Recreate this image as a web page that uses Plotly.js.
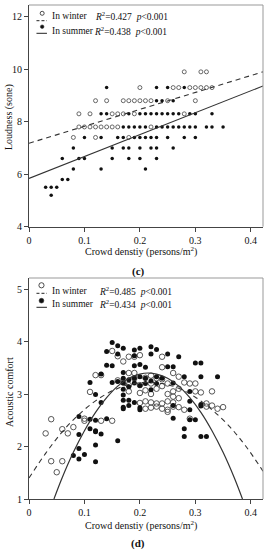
<!DOCTYPE html>
<html><head><meta charset="utf-8">
<script src="https://cdn.plot.ly/plotly-3.0.1.min.js"></script>
<style>html,body{margin:0;padding:0;background:#fff}#chart{width:267px;height:550px}</style>
</head><body><div id="chart"></div>
<script>
// ---------- Panel (c): Loudness vs crowd density ----------
const loudWinterX = [0.28,0.31,0.32,
  0.20,0.26,0.27,0.29,0.30,0.31,0.32,0.33,
  0.12,0.14,0.17,0.18,0.19,0.20,0.21,0.22,0.25,0.30,
  0.09,0.11,0.15,0.16,0.17,0.19,0.28,
  0.09,0.10,0.11,0.12,0.13,0.14,0.15,0.16,0.22,
  0.08,0.12,0.18];
const loudWinterY = [9.9,9.9,9.9,
  9.3,9.3,9.3,9.3,9.3,9.3,9.3,9.3,
  8.8,8.8,8.8,8.8,8.8,8.8,8.8,8.8,8.8,8.8,
  8.3,8.3,8.3,8.3,8.3,8.3,8.3,
  7.8,7.8,7.8,7.8,7.8,7.8,7.8,7.8,7.8,
  7.4,7.4,7.4];
const loudSummerX = [0.14,0.23,0.25,0.28,
  0.23,0.24,0.26,
  0.13,0.14,0.18,0.20,0.21,0.22,0.23,0.24,0.25,0.26,0.27,0.29,0.30,0.33,
  0.17,0.18,0.19,0.20,0.21,0.23,0.24,0.25,0.26,0.27,0.28,0.29,0.30,0.32,0.33,0.35,
  0.10,0.13,0.16,0.17,0.19,0.20,0.21,0.22,0.23,0.25,0.28,0.30,
  0.08,0.15,0.17,0.18,0.20,0.22,0.23,0.26,
  0.06,0.09,0.10,0.15,0.18,0.20,0.23,
  0.08,0.13,0.21,
  0.06,0.07,
  0.03,0.04,0.05,
  0.04];
const loudSummerY = [9.3,9.3,9.3,9.3,
  8.8,8.8,8.8,
  8.3,8.3,8.3,8.3,8.3,8.3,8.3,8.3,8.3,8.3,8.3,8.3,8.3,8.3,
  7.8,7.8,7.8,7.8,7.8,7.8,7.8,7.8,7.8,7.8,7.8,7.8,7.8,7.8,7.8,7.8,
  7.4,7.4,7.4,7.4,7.4,7.4,7.4,7.4,7.4,7.4,7.4,7.4,
  7.0,7.0,7.0,7.0,7.0,7.0,7.0,7.0,
  6.6,6.6,6.6,6.6,6.6,6.6,6.6,
  6.2,6.2,6.2,
  5.8,5.8,
  5.5,5.5,5.5,
  5.2];
// fitted lines (end points)
const loudFitX = [0, 0.422];
const loudFitWinterY = [7.18, 9.9];
const loudFitSummerY = [5.84, 9.36];

// ---------- Panel (d): Acoustic comfort vs crowd density ----------
const comfWinterX = [0.03,0.04,0.06,0.07,0.08,0.10,0.10,0.13,0.15,0.04,0.06,0.05,
  0.15,0.16,0.18,0.19,0.17,0.18,0.12,0.13,0.16,0.19,0.21,0.18,0.20,0.18,0.11,0.21,0.21,0.20,
  0.20,0.24,0.24,0.27,0.29,0.30,0.31,0.33,0.32,0.33,0.35,0.26,0.26,0.22,0.23,0.24,0.25,0.26,0.27,
  0.21,0.22,0.23,0.24,0.25,0.25,0.26,0.27,0.28,0.29,0.32,0.34,
  0.22,0.23,0.24,0.22,0.25,0.23,0.26,0.28,0.27,0.17,0.19,0.20,0.24,0.25,0.22,0.30];
const comfWinterY = [2.25,2.52,2.33,2.25,2.37,2.53,2.49,2.49,2.49,1.72,1.72,1.51,
  3.82,3.72,3.71,3.71,3.62,3.40,3.36,3.36,3.26,3.30,3.31,3.17,3.17,3.05,3.04,3.07,2.86,2.83,
  3.74,3.71,3.51,3.33,3.20,3.20,3.03,3.05,2.82,2.78,2.75,3.05,2.95,2.84,2.82,2.82,2.86,2.84,2.92,
  2.72,2.74,2.76,2.72,2.70,2.66,2.76,2.75,2.70,2.53,2.76,2.72,
  3.20,3.10,3.15,3.00,3.00,3.30,3.40,3.22,3.10,3.22,3.40,3.02,3.28,3.20,3.35,3.05];
const comfSummerX = [0.09,0.11,0.12,0.14,0.11,0.12,0.12,0.13,0.09,0.16,0.12,0.09,0.08,0.10,0.09,0.12,
  0.15,0.16,0.17,0.14,0.16,0.19,0.20,0.19,0.14,0.15,0.19,0.20,0.13,0.11,0.15,0.16,0.17,0.17,0.17,
  0.18,0.19,0.20,0.19,0.18,0.17,0.12,0.13,0.17,0.17,0.18,0.19,0.17,0.20,
  0.22,0.23,0.22,0.25,0.27,0.30,0.21,0.25,0.26,0.23,0.24,0.28,0.31,0.34,0.31,0.26,0.22,0.29,0.29,
  0.31,0.21,0.22,0.21,0.23,0.20,0.29,0.26,0.29,0.30,0.28,0.28,0.31,0.32,0.31,0.17,0.18,0.20,0.26];
const comfSummerY = [2.57,2.52,2.50,2.53,2.34,2.30,2.28,2.24,2.23,2.11,2.03,1.96,1.83,1.85,1.76,1.71,
  3.98,3.92,3.87,3.81,3.76,3.84,3.87,3.73,3.55,3.54,3.54,3.56,3.38,3.22,3.22,3.24,3.41,3.30,3.21,
  3.27,3.30,3.33,3.21,3.14,3.09,2.99,2.84,2.98,2.88,2.88,2.84,2.75,3.16,
  3.90,3.85,3.76,3.76,3.71,3.59,3.51,3.52,3.52,3.33,3.30,3.33,3.33,3.33,3.59,3.21,3.08,3.05,2.86,
  2.80,3.30,3.25,3.20,3.20,2.70,2.70,2.54,2.51,2.51,2.34,2.19,2.19,2.19,2.77,2.72,2.78,2.74,2.78];
// fitted curves
const comfFitWinterX = [0,0.03,0.06,0.09,0.12,0.15,0.18,0.21,0.24,0.27,0.30,0.33,0.36,0.39,0.422];
const comfFitWinterY = [1.40,1.87,2.28,2.61,2.87,3.06,3.18,3.22,3.20,3.11,2.94,2.70,2.40,2.02,1.53];
const comfFitSummerX = [0.045,0.06,0.08,0.10,0.12,0.14,0.16,0.18,0.20,0.215,0.23,0.25,0.27,0.29,0.31,0.33,0.35,0.37,0.385];
const comfFitSummerY = [1.00,1.41,1.89,2.30,2.65,2.93,3.15,3.30,3.38,3.40,3.38,3.30,3.15,2.93,2.65,2.30,1.89,1.41,1.00];

const xTickVals = [0,0.1,0.2,0.3,0.4];
const xTickText = ['0','0.1','0.2','0.3','0.4'];
const loudTickVals = [4,6,8,10,12];
const comfTickVals = [1,2,3,4,5];

// ---------- layout helpers (pixel -> paper) ----------
const L = 28.5, R = 4, T = 5, B = 51, W = 267, H = 550;
const PW = W - L - R, PH = H - T - B;
const px = v => (v - L) / PW;
const py = v => (H - B - v) / PH;
const FONT = 'Liberation Serif, Times New Roman, serif';

function ann(text, x, y, o) {
  return Object.assign({text, xref:'paper', yref:'paper', x:px(x), y:py(y), showarrow:false,
    xanchor:'left', yanchor:'middle', font:{family:FONT, size:10, color:'#111'}}, o || {});
}
function leg(text, x, y) {
  return ann(text, x, y, {font:{family:FONT, size:9.5, color:'#111'}});
}
function circ(cx, cy, r, fill) {
  return {type:'circle', xref:'paper', yref:'paper', x0:px(cx-r), x1:px(cx+r), y0:py(cy+r), y1:py(cy-r),
    line:{color:'#222', width:fill?0.5:0.8}, fillcolor: fill ? '#111' : 'rgba(0,0,0,0)'};
}
function hline(x0, x1, y, dash, color) {
  return {type:'line', xref:'paper', yref:'paper', x0:px(x0), x1:px(x1), y0:py(y), y1:py(y),
    line:{color:color||'#222', width:1, dash:dash||'solid'}};
}
function vline(x, y0, y1, color) {
  return {type:'line', xref:'paper', yref:'paper', x0:px(x), x1:px(x), y0:py(y0), y1:py(y1),
    line:{color:color, width:1}};
}

const topDom = [py(226.7), 1];
const botDom = [0, py(278)];

const axisCommon = {showline:true, linecolor:'#444', linewidth:1, ticks:'outside', ticklen:4, tickwidth:1,
  tickcolor:'#444', showgrid:false, zeroline:false, tickfont:{family:FONT, size:10, color:'#111'}, fixedrange:true};

const traces = [
  {x:loudWinterX, y:loudWinterY, xaxis:'x', yaxis:'y', mode:'markers', type:'scatter',
   marker:{symbol:'circle-open', size:4, color:'#444', line:{width:0.8, color:'#444'}}},
  {x:loudSummerX, y:loudSummerY, xaxis:'x', yaxis:'y', mode:'markers', type:'scatter',
   marker:{symbol:'circle', size:3.5, color:'#111'}},
  {x:loudFitX, y:loudFitWinterY, xaxis:'x', yaxis:'y', mode:'lines', type:'scatter',
   line:{color:'#333', width:1.1, dash:'5px,4px'}},
  {x:loudFitX, y:loudFitSummerY, xaxis:'x', yaxis:'y', mode:'lines', type:'scatter',
   line:{color:'#333', width:1.1}},
  {x:comfWinterX, y:comfWinterY, xaxis:'x2', yaxis:'y2', mode:'markers', type:'scatter',
   marker:{symbol:'circle-open', size:5.5, color:'#444', line:{width:0.9, color:'#444'}}},
  {x:comfSummerX, y:comfSummerY, xaxis:'x2', yaxis:'y2', mode:'markers', type:'scatter',
   marker:{symbol:'circle', size:5, color:'#111'}},
  {x:comfFitWinterX, y:comfFitWinterY, xaxis:'x2', yaxis:'y2', mode:'lines', type:'scatter',
   line:{color:'#333', width:1.1, dash:'5px,4px', shape:'spline'}},
  {x:comfFitSummerX, y:comfFitSummerY, xaxis:'x2', yaxis:'y2', mode:'lines', type:'scatter',
   line:{color:'#333', width:1.2, shape:'spline'}}
];

const layout = {
  width:W, height:H, margin:{l:L, r:R, t:T, b:B}, showlegend:false,
  paper_bgcolor:'#fff', plot_bgcolor:'#fff',
  xaxis: Object.assign({}, axisCommon, {domain:[0,1], range:[0,0.422], tickvals:xTickVals, ticktext:xTickText, anchor:'y'}),
  yaxis: Object.assign({}, axisCommon, {domain:topDom, range:[4,12.446], tickvals:loudTickVals, anchor:'x'}),
  xaxis2: Object.assign({}, axisCommon, {domain:[0,1], range:[0,0.422], tickvals:xTickVals, ticktext:xTickText, anchor:'y2'}),
  yaxis2: Object.assign({}, axisCommon, {domain:botDom, range:[1,5.21], tickvals:comfTickVals, anchor:'x2'}),
  shapes: [
    hline(28.5, 263, 5, 'solid', '#999'), vline(263, 5, 226.7, '#999'),
    hline(28.5, 263, 278, 'solid', '#999'), vline(263, 278, 499, '#999'),
    circ(41.7, 13.3, 2, false), hline(36, 46.5, 20.7, '3px,2px'),
    circ(41.7, 26.7, 1.8, true), hline(36, 46.5, 33.3),
    circ(41, 285.3, 2.6, false), hline(36, 46.5, 293.3, '3px,2px'),
    circ(41, 300.7, 2.4, true), hline(36, 46.5, 307.3)
  ],
  annotations: [
    leg('In winter', 49.5, 16.5), leg('<i>R</i><sup>2</sup>=0.427  <i>p</i><0.001', 93, 16.5),
    leg('In summer', 49.5, 30.5), leg('<i>R</i><sup>2</sup>=0.438  <i>p</i><0.001', 92, 30.5),
    leg('In winter', 49.5, 290.5), leg('<i>R</i><sup>2</sup>=0.485  <i>p</i><0.001', 96.5, 290.5),
    leg('In summer', 49.5, 303.5), leg('<i>R</i><sup>2</sup>=0.434  <i>p</i><0.001', 96.5, 303.5),
    ann('Crowd denstiy (persons/m<sup>2</sup>)', 141, 251.5, {xanchor:'center'}),
    ann('Crowd denstiy (persons/m<sup>2</sup>)', 141, 525, {xanchor:'center'}),
    ann('Loudness (sone)', 8.5, 117, {xanchor:'center', textangle:-90}),
    ann('Acoustic comfort', 8.5, 392, {xanchor:'center', textangle:-90}),
    ann('<b>(c)</b>', 138, 271, {xanchor:'center', font:{family:FONT, size:11, color:'#111'}}),
    ann('<b>(d)</b>', 138, 543.5, {xanchor:'center', font:{family:FONT, size:11, color:'#111'}})
  ]
};

Plotly.newPlot('chart', traces, layout, {staticPlot:true, displayModeBar:false});
</script>
</body></html>
